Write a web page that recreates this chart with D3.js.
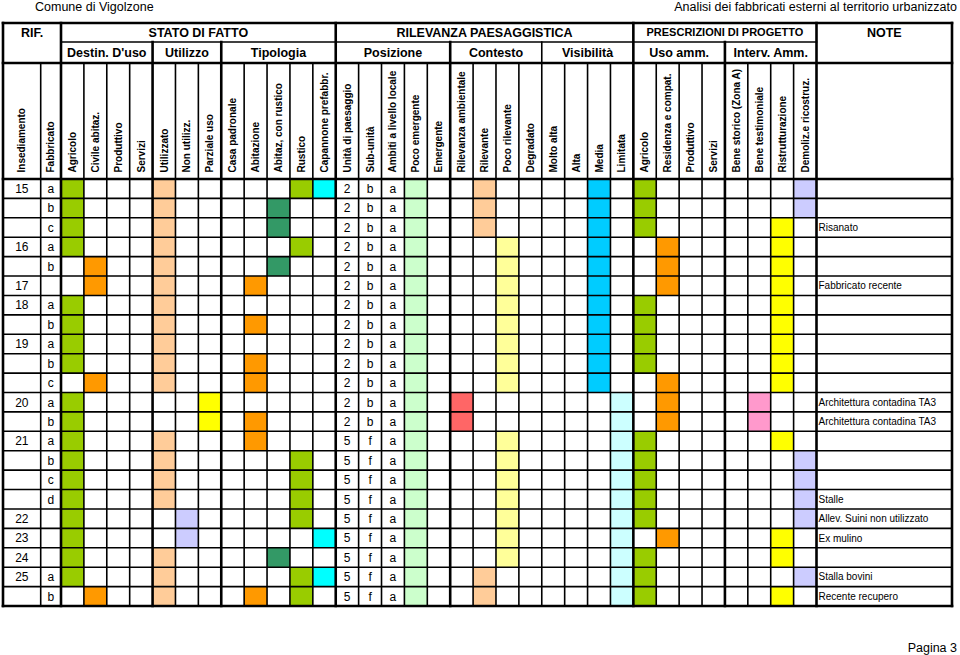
<!DOCTYPE html>
<html><head><meta charset="utf-8">
<script src="https://cdn.jsdelivr.net/npm/d3@7"></script>
<style>
html,body{margin:0;padding:0;background:#fff;}
svg{display:block;font-family:"Liberation Sans",Arial,sans-serif;}
</style></head>
<body>
<svg id="chart" width="960" height="655"></svg>
<script>
// ---------- DATA ----------
const pageTitleLeft = "Comune di Vigolzone";
const pageTitleRight = "Analisi dei fabbricati esterni al territorio urbanizzato";
const pageFooter = "Pagina 3";

const refColumns = ["Insediamento", "Fabbricato"];
const topGroups = [
  {label: "STATO DI FATTO", from: 0, to: 12},
  {label: "RILEVANZA PAESAGGISTICA", from: 12, to: 25},
  {label: "PRESCRIZIONI DI PROGETTO", from: 25, to: 33}
];
const subGroups = [
  {label: "Destin. D'uso", from: 0, to: 4},
  {label: "Utilizzo", from: 4, to: 7},
  {label: "Tipologia", from: 7, to: 12},
  {label: "Posizione", from: 12, to: 17},
  {label: "Contesto", from: 17, to: 21},
  {label: "Visibilità", from: 21, to: 25},
  {label: "Uso amm.", from: 25, to: 29},
  {label: "Interv. Amm.", from: 29, to: 33}
];
const columns = [
  "Agricolo", "Civile abitaz.", "Produttivo", "Servizi",
  "Utilizzato", "Non utilizz.", "Parziale uso",
  "Casa padronale", "Abitazione", "Abitaz, con rustico", "Rustico", "Capannone prefabbr.",
  "Unità di paesaggio", "Sub-unità", "Ambiti a livello locale", "Poco emergente", "Emergente",
  "Rilevanza ambientale", "Rilevante", "Poco rilevante", "Degradato",
  "Molto alta", "Alta", "Media", "Limitata",
  "Agricolo", "Residenza e compat.", "Produttivo", "Servizi",
  "Bene storico (Zona A)", "Bene testimoniale", "Ristrutturazione", "Demoliz.e ricostruz."
];

const insediamento = ["15","","","16","","17","18","","19","","","20","","21","","","","22","23","24","25",""];
const fabbricato   = ["a","b","c","a","b","","a","b","a","b","c","a","b","a","b","c","d","","","","a","b"];
const unitaPaesaggio = ["2","2","2","2","2","2","2","2","2","2","2","2","2","5","5","5","5","5","5","5","5","5"];
const subUnita       = ["b","b","b","b","b","b","b","b","b","b","b","b","b","f","f","f","f","f","f","f","f","f"];
const ambitiLocali   = ["a","a","a","a","a","a","a","a","a","a","a","a","a","a","a","a","a","a","a","a","a","a"];
const notes = ["","","Risanato","","","Fabbricato recente","","","","","",
  "Architettura contadina TA3","Architettura contadina TA3","","","","Stalle",
  "Allev. Suini non utilizzato","Ex mulino","","Stalla bovini","Recente recupero"];

// cell codes per row (one char per column, groups separated by spaces)
const cellCodes = [
  "G... P.. ...GC ...L. .P.. ..B. G... ...V",
  "G... P.. ..D.. ...L. .P.. ..B. G... ...V",
  "G... P.. ..D.. ...L. .P.. ..B. G... ..K.",
  "G... P.. ...G. ...L. ..Y. ..B. .O.. ..K.",
  ".O.. P.. ..D.. ...L. ..Y. ..B. .O.. ..K.",
  ".O.. P.. .O... ...L. ..Y. ..B. .O.. ..K.",
  "G... P.. ..... ...L. ..Y. ..B. G... ..K.",
  "G... P.. .O... ...L. ..Y. ..B. G... ..K.",
  "G... P.. ..... ...L. ..Y. ..B. G... ..K.",
  "G... P.. .O... ...L. ..Y. ..B. G... ..K.",
  ".O.. P.. .O... ...L. ..Y. ..B. .O.. ..K.",
  "G... ..K ..... ...L. R... ...Q .O.. .M..",
  "G... ..K .O... ...L. R... ...Q .O.. .M..",
  "G... P.. .O... ...L. ..Y. ...Q G... ..K.",
  "G... P.. ...G. ...L. ..Y. ...Q G... ...V",
  "G... P.. ...G. ...L. ..Y. ...Q G... ...V",
  "G... P.. ...G. ...L. ..Y. ...Q G... ...V",
  "G... .V. ...G. ...L. ..Y. ...Q G... ...V",
  "G... .V. ....C ...L. ..Y. ...Q .O.. ..K.",
  "G... P.. ..D.. ...L. ..Y. ...Q G... ..K.",
  "G... P.. ...GC ...L. .P.. ...Q G... ...V",
  ".O.. P.. .O.G. ...L. .P.. ...Q G... ..K."
];
const codeColors = {
  G: "#99cc00", P: "#ffcc99", C: "#00ffff", D: "#339966", O: "#ff9900",
  L: "#ccffcc", Y: "#ffff99", B: "#00ccff", K: "#ffff00", V: "#ccccff",
  R: "#ff6666", Q: "#ccffff", M: "#ff99cc"
};

// ---------- LAYOUT ----------
const svg = d3.select("#chart");
const X0 = 3, XF = 40.7, XC = 61, XN = 816.5, XR = 952;
const Y0 = 23, Y1 = 42, Y2 = 63, Y3 = 179, YB = 606;
const thin = 1.6, thick = 2.6;

const nRows = insediamento.length;
const x = d3.scaleBand().domain(d3.range(columns.length)).range([XC, XN]).padding(0);
const y = d3.scaleBand().domain(d3.range(nRows)).range([Y3, YB]).padding(0);
const xEdge = i => i >= columns.length ? XN : x(i);

// cells
const cells = [];
cellCodes.forEach((s, r) => {
  const codes = s.replace(/ /g, "");
  codes.split("").forEach((c, i) => { if (codeColors[c]) cells.push({r, i, c}); });
});
svg.append("g").selectAll("rect").data(cells).join("rect")
  .attr("x", d => x(d.i)).attr("y", d => y(d.r))
  .attr("width", x.bandwidth()).attr("height", y.bandwidth())
  .attr("fill", d => codeColors[d.c]);

// grid lines
const g = svg.append("g").attr("stroke", "#000").attr("stroke-linecap", "square");
function line(x1, y1, x2, y2, w) {
  g.append("line").attr("x1", x1).attr("y1", y1).attr("x2", x2).attr("y2", y2).attr("stroke-width", w);
}
// horizontal
line(X0, Y0, XR, Y0, thick);
line(XC, Y1, XN, Y1, thin);
line(X0, Y2, XR, Y2, thick);
d3.range(nRows + 1).forEach(r => {
  const yy = r === nRows ? YB : y(r);
  line(X0, yy, XR, yy, (r === 0 || r === nRows) ? thick : thin);
});
// vertical: cells
const thickStarts = new Set([0, 4, 7, 12, 17, 25, 29, 33]);
d3.range(columns.length + 1).forEach(i => {
  const isTop = topGroups.some(t => t.from === i) || i === 33;
  const isSub = subGroups.some(t => t.from === i);
  const y1 = isTop ? Y0 : (isSub ? Y1 : Y2);
  line(xEdge(i), y1, xEdge(i), YB, thickStarts.has(i) ? thick : thin);
});
line(X0, Y0, X0, YB, thick);
line(XR, Y0, XR, YB, thick);
line(XF, Y2, XF, YB, thin);

// ---------- TEXT ----------
const T = svg.append("g").attr("fill", "#000");
T.append("text").attr("x", 35).attr("y", 10.5).attr("font-size", 12.5).text(pageTitleLeft);
T.append("text").attr("x", 957).attr("y", 10.5).attr("font-size", 12.5).attr("text-anchor", "end").text(pageTitleRight);
T.append("text").attr("x", 957).attr("y", 651.5).attr("font-size", 12.5).attr("text-anchor", "end").text(pageFooter);

// header row 1
T.append("text").attr("x", (X0 + XC) / 2).attr("y", 33).attr("dy", "0.35em")
  .attr("font-size", 12.5).attr("font-weight", "bold").attr("text-anchor", "middle").text("RIF.");
T.append("text").attr("x", (XN + XR) / 2).attr("y", 33).attr("dy", "0.35em")
  .attr("font-size", 12.5).attr("font-weight", "bold").attr("text-anchor", "middle").text("NOTE");
T.selectAll(".tg").data(topGroups).join("text")
  .attr("x", d => (xEdge(d.from) + xEdge(d.to)) / 2).attr("y", 32.5).attr("dy", "0.35em")
  .attr("font-size", d => d.to - d.from < 10 ? 11 : 12.5).attr("font-weight", "bold")
  .attr("text-anchor", "middle").text(d => d.label);
T.selectAll(".sg").data(subGroups).join("text")
  .attr("x", d => (xEdge(d.from) + xEdge(d.to)) / 2).attr("y", 52.5).attr("dy", "0.35em")
  .attr("font-size", 12.5).attr("font-weight", "bold")
  .attr("text-anchor", "middle").text(d => d.label);

// rotated column headers
const colHeads = [
  {label: refColumns[0], cx: (X0 + XF) / 2},
  {label: refColumns[1], cx: (XF + XC) / 2}
].concat(columns.map((c, i) => ({label: c, cx: x(i) + x.bandwidth() / 2})));
T.selectAll(".ch").data(colHeads).join("text")
  .attr("transform", d => `translate(${d.cx},172.5) rotate(-90)`)
  .attr("dy", "0.35em").attr("font-size", 10).attr("font-weight", "bold")
  .text(d => d.label);

// row data text
const rowIdx = d3.range(nRows);
const cy = r => y(r) + y.bandwidth() / 2;
function colText(arr, cx, anchor, size) {
  T.append("g").selectAll("text").data(rowIdx).join("text")
    .attr("x", cx).attr("y", r => cy(r)).attr("dy", "0.36em")
    .attr("font-size", size).attr("text-anchor", anchor)
    .text(r => arr[r]);
}
colText(insediamento, (X0 + XF) / 2, "middle", 12);
colText(fabbricato, (XF + XC) / 2, "middle", 12);
colText(unitaPaesaggio, x(12) + x.bandwidth() / 2, "middle", 12);
colText(subUnita, x(13) + x.bandwidth() / 2, "middle", 12);
colText(ambitiLocali, x(14) + x.bandwidth() / 2, "middle", 12);
colText(notes, XN + 2, "start", 10);
</script>
</body></html>
